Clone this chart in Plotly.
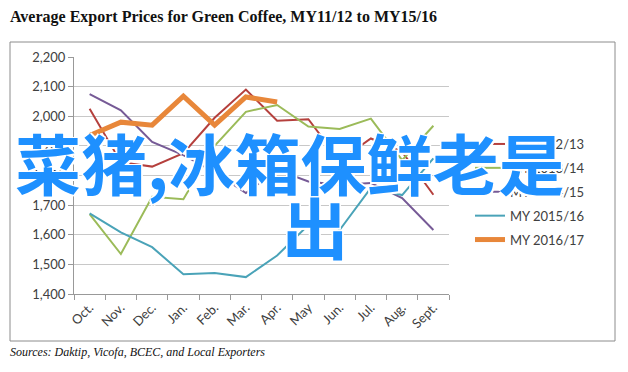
import plotly.graph_objects as go

months = ["Oct.", "Nov.", "Dec.", "Jan.", "Feb.", "Mar.", "Apr.", "May", "Jun.", "Jul.", "Aug.", "Sept."]
series_names = ["MY 2012/13", "MY 2013/14", "MY 2014/15", "MY 2015/16", "MY 2016/17"]
my1213 = [2025, 1845, 1830, 1875, 1995, 2090, 1985, 1990, 1850, 1925, 1880, 1735]
my1314 = [1670, 1535, 1728, 1720, 1900, 2015, 2038, 1965, 1957, 1992, 1852, 1968]
my1415 = [2075, 2020, 1913, 1869, 1812, 1741, 1819, 1780, 1768, 1775, 1724, 1616]
my1516 = [1672, 1608, 1558, 1467, 1471, 1457, 1530, 1633, 1616, 1758, 1734, 1858]
my1617 = [1935, 1980, 1970, 2068, 1970, 2065, 2048]
y_ticks = [1400, 1500, 1600, 1700, 1800, 1900, 2000, 2100, 2200]

title_text = "Average Export Prices for Green Coffee, MY11/12 to MY15/16"
source_text = "Sources: Daktip, Vicofa, BCEC, and Local Exporters"
overlay_line1 = "菜猪,冰箱保鲜老是"
overlay_line2 = "出"

colors = ["#B5403D", "#9BBB59", "#765A96", "#4AA3B8", "#E8873A"]
widths = [2, 2, 2, 2, 5]
all_values = [my1213, my1314, my1415, my1516, my1617]

# page has an 8px body margin; work in window pixels and shift
OFF = 8
W, H = 628 - OFF, 372 - OFF
L, R, T, B = 74 - OFF, 449 - OFF, 57 - OFF, 294 - OFF


def px(x):
    return (x - OFF - L) / (R - L)


def py(y):
    return (B - (y - OFF)) / (B - T)


fig = go.Figure()
for name, vals, c, w in zip(series_names, all_values, colors, widths):
    fig.add_trace(go.Scatter(
        x=months[:len(vals)], y=vals, mode="lines", name=name,
        line=dict(color=c, width=w), legendgroup=name,
    ))

fig.update_layout(
    width=W, height=H,
    margin=dict(l=L, r=W - R, t=T, b=H - B),
    paper_bgcolor="white", plot_bgcolor="white",
    showlegend=True,
    legend=dict(
        x=px(470), y=py(129), xanchor="left", yanchor="top",
        font=dict(family="Lato, Open Sans, sans-serif", size=13, color="#404040"),
        tracegroupgap=4, bgcolor="rgba(0,0,0,0)",
    ),
    xaxis=dict(
        type="category", categoryorder="array", categoryarray=months,
        range=[-0.5, 11.5], tickangle=-45,
        ticks="outside", ticklen=5, tickcolor="#999999", tickson="boundaries",
        showline=True, linecolor="#999999", linewidth=1, showgrid=False,
        tickfont=dict(family="Lato, Open Sans, sans-serif", size=13, color="#404040"),
    ),
    yaxis=dict(
        range=[1400, 2200], tickvals=y_ticks, tickformat=",",
        ticks="outside", ticklen=5, tickcolor="#999999",
        showline=True, linecolor="#999999", linewidth=1,
        showgrid=True, gridcolor="#C8C8C8", gridwidth=1, zeroline=False,
        tickfont=dict(family="Lato, Open Sans, sans-serif", size=13, color="#404040"),
    ),
)

fig.add_shape(type="rect", xref="paper", yref="paper",
              x0=px(10), x1=px(615), y0=py(341), y1=py(42),
              line=dict(color="#8C8C8C", width=1), layer="below")

fig.add_annotation(text="<b>" + title_text + "</b>", xref="paper", yref="paper",
                   x=px(8), y=py(17), xanchor="left", yanchor="middle", showarrow=False,
                   font=dict(family="Liberation Serif, Times New Roman, serif", size=16, color="#111111"))
fig.add_annotation(text="<i>" + source_text + "</i>", xref="paper", yref="paper",
                   x=px(8), y=py(352), xanchor="left", yanchor="middle", showarrow=False,
                   font=dict(family="Liberation Serif, Times New Roman, serif", size=12, color="#111111"))

shadow = "1.5px 1.5px 0 white, -1.5px -1.5px 0 white, 1.5px -1.5px 0 white, -1.5px 1.5px 0 white"
fig.add_annotation(text="<b>" + overlay_line1 + "</b>", xref="paper", yref="paper",
                   x=px(289), y=py(161), xanchor="center", yanchor="middle", showarrow=False,
                   font=dict(family="Noto Sans CJK SC", size=66, color="#1E90FF", shadow=shadow))
fig.add_annotation(text="<b>" + overlay_line2 + "</b>", xref="paper", yref="paper",
                   x=px(315), y=py(225), xanchor="center", yanchor="middle", showarrow=False,
                   font=dict(family="Noto Sans CJK SC", size=66, color="#1E90FF", shadow=shadow))

fig.write_html("out.html")
